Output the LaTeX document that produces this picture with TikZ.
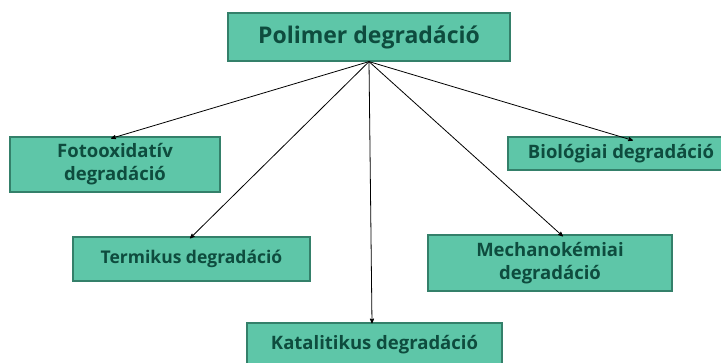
\documentclass[tikz,border=0pt]{standalone}
\usepackage{fontspec}
\setmainfont{Open Sans}
\usetikzlibrary{arrows}

\definecolor{boxfill}{RGB}{94,198,168}
\definecolor{boxline}{RGB}{52,128,106}
\definecolor{boxtext}{RGB}{14,76,62}

\begin{document}
\begin{tikzpicture}[x=1pt,y=-1pt]
	\tikzstyle{degbox}=[draw=boxline, line width=1.2pt, fill=boxfill, text=boxtext, align=center, font=\bfseries\fontsize{18.5}{23}\selectfont, inner sep=0pt]
	\tikzstyle{degarrow}=[->, >=stealth', line width=0.8pt]

	\useasboundingbox (0,0) rectangle (721,362);

	\node[degbox, minimum width=282pt, minimum height=48pt, font=\bfseries\fontsize{23}{27}\selectfont] (polimer) at (369,37) {Polimer degradáció};
	\node[degbox, minimum width=210pt, minimum height=55pt] (foto) at (115,164.5) {Fotooxidatív\\degradáció};
	\node[degbox, minimum width=226pt, minimum height=33pt] (bio) at (621,153.5) {Biológiai degradáció};
	\node[degbox, minimum width=237pt, minimum height=44pt, font=\bfseries\fontsize{17.5}{21}\selectfont] (termikus) at (191.5,259) {Termikus degradáció};
	\node[degbox, minimum width=244pt, minimum height=56pt] (mechano) at (550,263) {Mechanokémiai\\degradáció};
	\node[degbox, minimum width=255pt, minimum height=44pt] (katal) at (374.5,345) {Katalitikus degradáció};

	% all arrows start at the bottom of the top box
	\draw[degarrow] (polimer.south) -- ([xshift=-4pt, yshift=-2pt] foto.north);
	\draw[degarrow] (polimer.south) -- ([xshift=-1.5pt, yshift=-2pt] termikus.north);
	\draw[degarrow] (polimer.south) -- ([xshift=-2.5pt, yshift=-1pt] katal.north);
	\draw[degarrow] (polimer.south) -- ([xshift=13pt, yshift=-2pt] mechano.north);
	\draw[degarrow] (polimer.south) -- ([xshift=12pt, yshift=-4pt] bio.north);
\end{tikzpicture}
\end{document}
